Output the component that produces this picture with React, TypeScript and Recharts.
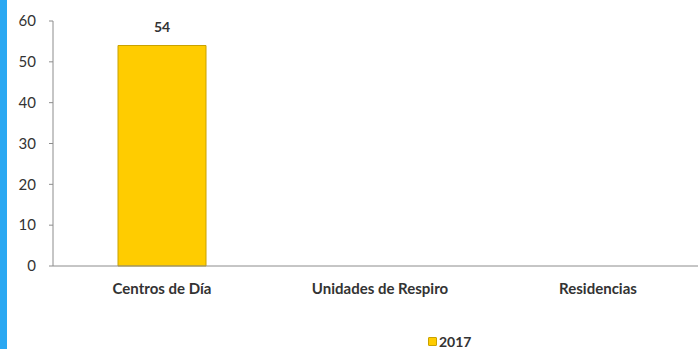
import React from 'react';
import { BarChart, Bar, XAxis, YAxis, Legend, LabelList } from 'recharts';

const categories = ['Centros de Día', 'Unidades de Respiro', 'Residencias'];
const values2017 = [54, null, null];
const yTicks = [0, 10, 20, 30, 40, 50, 60];

const data = categories.map((name, i) => ({ name, v2017: values2017[i] }));

const font = 'Lato, "Open Sans", sans-serif';

const LegendContent = () => (
    <div style={{ paddingLeft: 428, paddingTop: 17, height: 33, boxSizing: 'border-box', display: 'flex', alignItems: 'center' }}>
        <span style={{ display: 'inline-block', width: 7, height: 7, background: '#FFCC00', border: '1px solid #C9A200', borderRadius: 1, marginRight: 2 }} />
        <span style={{ fontFamily: font, fontWeight: 700, fontSize: 14, color: '#333' }}>2017</span>
    </div>
);

const App: React.FC = () => {
    return (
        <div style={{ position: 'fixed', left: 0, top: 0, width: 698, height: 349, overflow: 'hidden', background: '#fff' }}>
            <div style={{ position: 'absolute', left: 0, top: 0, width: 7, height: 349, background: '#2AA8F2' }} />
            <BarChart
                width={712}
                height={349}
                data={data}
                margin={{ top: 21, right: 5, left: 0, bottom: 0 }}
                barCategoryGap={65}
            >
                <XAxis
                    dataKey="name"
                    axisLine={{ stroke: '#8c8c8c' }}
                    tickLine={false}
                    tickSize={0}
                    tickMargin={17}
                    height={50}
                    tick={{ fill: '#333', fontFamily: font, fontWeight: 700, fontSize: 15 }}
                />
                <YAxis
                    domain={[0, 60]}
                    ticks={yTicks}
                    width={53}
                    axisLine={{ stroke: '#8c8c8c' }}
                    tickLine={{ stroke: '#8c8c8c' }}
                    tickSize={4}
                    tickMargin={13}
                    tick={{ fill: '#333', fontFamily: font, fontSize: 15 }}
                />
                <Legend verticalAlign="bottom" content={<LegendContent />} wrapperStyle={{ left: 0, width: 712 }} />
                <Bar dataKey="v2017" name="2017" fill="#FFCC00" stroke="#C9A200" strokeWidth={1} isAnimationActive={false}>
                    <LabelList dataKey="v2017" position="top" offset={14} style={{ fill: '#333', fontFamily: font, fontWeight: 700, fontSize: 14 }} />
                </Bar>
            </BarChart>
        </div>
    );
};

export default App;
